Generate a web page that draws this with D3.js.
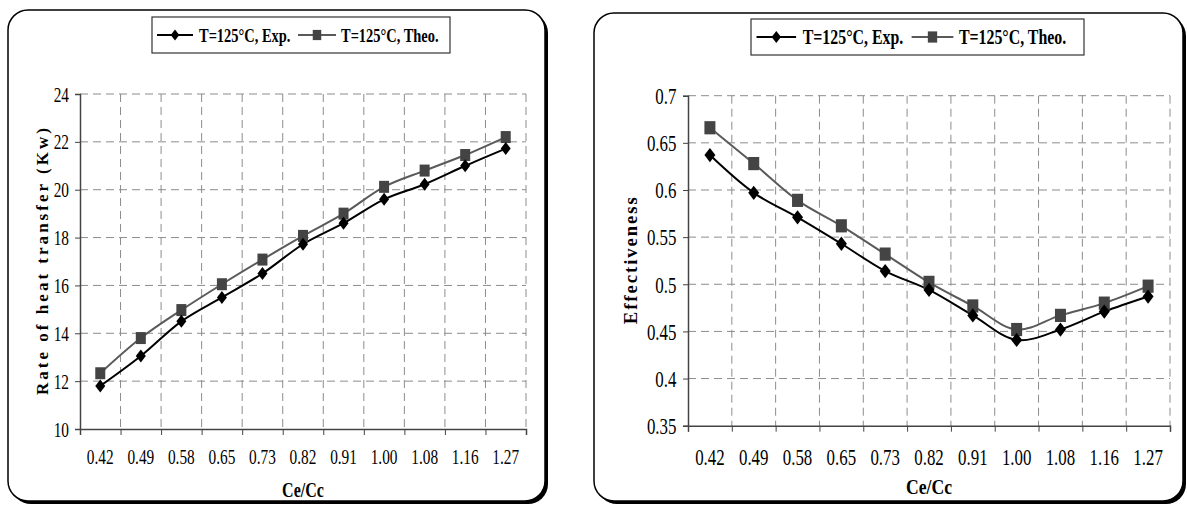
<!DOCTYPE html>
<html>
<head>
  <meta charset="utf-8">
  <style>
    body { margin: 0; background: #fff; }
    svg { display: block; }
    text { font-family: "Liberation Serif", "Times New Roman", serif; fill: #000; }
  </style>
  <title>Ce/Cc</title>
</head>
<body>
  <script src="https://cdn.jsdelivr.net/npm/d3@7"></script>
  <script>
    // data
    var cats = ["0.42", "0.49", "0.58", "0.65", "0.73", "0.82", "0.91", "1.00", "1.08", "1.16", "1.27"];
    var heatExp = [11.8, 13.05, 14.5, 15.5, 16.5, 17.72, 18.6, 19.6, 20.23, 21.0, 21.72];
    var heatTheo = [12.33, 13.8, 14.97, 16.05, 17.08, 18.07, 19.0, 20.12, 20.8, 21.45, 22.2];
    var effExp = [0.637, 0.597, 0.571, 0.543, 0.514, 0.494, 0.467, 0.441, 0.452, 0.471, 0.487];
    var effTheo = [0.666, 0.628, 0.589, 0.562, 0.532, 0.502, 0.477, 0.452, 0.467, 0.480, 0.498];
    var heatTicks = [10, 12, 14, 16, 18, 20, 22, 24];
    var heatTickLabels = ["10", "12", "14", "16", "18", "20", "22", "24"];
    var effTicks = [0.35, 0.4, 0.45, 0.5, 0.55, 0.6, 0.65, 0.7];
    var effTickLabels = ["0.35", "0.4", "0.45", "0.5", "0.55", "0.6", "0.65", "0.7"];
    var seriesNames = ["T=125\u00B0C, Exp.", "T=125\u00B0C, Theo."];

    var svg = d3.select("body").append("svg")
      .attr("width", 1187)
      .attr("height", 506);

    // narrow the glyphs a bit, the original is horizontally squashed
    function squeeze(sel, k) {
      sel.each(function () {
        var w = this.getComputedTextLength();
        d3.select(this).attr("textLength", w * k).attr("lengthAdjust", "spacingAndGlyphs");
      });
    }

    function diamond(g, cx, cy, s) {
      g.append("path")
        .attr("d", "M" + cx + "," + (cy - 6.5 * s) + "L" + (cx + 5 * s) + "," + cy +
          "L" + cx + "," + (cy + 6.5 * s) + "L" + (cx - 5 * s) + "," + cy + "Z")
        .attr("fill", "#000");
    }

    function square(g, cx, cy, s) {
      g.append("rect")
        .attr("x", cx - 5 * s).attr("y", cy - 6 * s)
        .attr("width", 10 * s).attr("height", 12 * s)
        .attr("fill", "#444");
    }

    function drawChart(c) {
      var s = c.s;
      var g = svg.append("g");

      // frame with heavy shadow on right/bottom
      g.append("rect")
        .attr("x", c.frame.x + 3).attr("y", c.frame.y + 3)
        .attr("width", c.frame.w).attr("height", c.frame.h)
        .attr("rx", 20).attr("fill", "#000");
      g.append("rect")
        .attr("x", c.frame.x).attr("y", c.frame.y)
        .attr("width", c.frame.w).attr("height", c.frame.h)
        .attr("rx", 20).attr("fill", "#fff")
        .attr("stroke", "#000").attr("stroke-width", 1.5);

      var x = d3.scaleBand().domain(cats).range([c.left, c.right]);
      var xb = d3.scaleLinear().domain([0, cats.length]).range([c.left, c.right]);
      var y = d3.scaleLinear().domain(c.domain).range([c.bottom, c.top]);

      // grid
      g.append("g").selectAll("line").data(c.ticks.slice(1)).join("line")
        .attr("x1", c.left).attr("x2", c.right)
        .attr("y1", d => y(d)).attr("y2", d => y(d))
        .attr("stroke", "#8c8c8c").attr("stroke-width", 1).attr("stroke-dasharray", "8,5");
      g.append("g").selectAll("line").data(d3.range(1, cats.length + 1)).join("line")
        .attr("x1", d => xb(d)).attr("x2", d => xb(d))
        .attr("y1", c.top).attr("y2", c.bottom)
        .attr("stroke", "#8c8c8c").attr("stroke-width", 1).attr("stroke-dasharray", "8,5");

      // y axis
      var yAxis = g.append("g")
        .attr("transform", "translate(" + c.left + ",0)")
        .call(d3.axisLeft(y).tickValues(c.ticks)
          .tickFormat((d, i) => c.tickLabels[i]).tickSize(5).tickPadding(6 * s));
      yAxis.select(".domain").attr("stroke", "#444").attr("stroke-width", 1.5);
      yAxis.selectAll(".tick line").attr("stroke", "#444");
      yAxis.selectAll("text")
        .attr("font-family", "Liberation Serif, serif")
        .attr("font-size", 21 * s).attr("fill", "#111")
        .attr("dy", "0.34em");
      squeeze(yAxis.selectAll("text"), 0.73);

      // x axis: ticks between categories, labels centred
      var xAxis = g.append("g")
        .attr("transform", "translate(0," + c.bottom + ")")
        .call(d3.axisBottom(xb).tickValues(d3.range(cats.length + 1)).tickFormat("").tickSize(6));
      xAxis.select(".domain").attr("stroke", "#444").attr("stroke-width", 1.5);
      xAxis.selectAll(".tick line").attr("stroke", "#444");

      var xl = g.append("g").selectAll("text").data(cats).join("text")
        .attr("x", d => x(d) + x.bandwidth() / 2)
        .attr("y", c.bottom + 38 * s - 3)
        .attr("text-anchor", "middle")
        .attr("font-size", 21 * s).attr("fill", "#111")
        .text(d => d);
      squeeze(xl, 0.73);

      // axis titles
      var xt = g.append("text")
        .attr("x", (c.left + c.right) / 2)
        .attr("y", c.xTitleY)
        .attr("text-anchor", "middle")
        .attr("font-weight", "bold")
        .attr("font-size", 20 * s)
        .text("Ce/Cc");
      squeeze(xt, 0.8);

      g.append("text")
        .attr("transform", "translate(" + c.yTitleX + "," + ((c.top + c.bottom) / 2) + ") rotate(-90)")
        .attr("text-anchor", "middle")
        .attr("dy", "0.35em")
        .attr("font-weight", "bold")
        .attr("font-size", 17 * s)
        .attr("textLength", c.yTitleLen)
        .attr("lengthAdjust", "spacing")
        .text(c.yTitle);

      // lines
      var line = d3.line()
        .x((d, i) => x(cats[i]) + x.bandwidth() / 2)
        .y(d => y(d))
        .curve(d3.curveCatmullRom.alpha(0.5));

      g.append("path").datum(c.theo)
        .attr("d", line).attr("fill", "none")
        .attr("stroke", "#5a5a5a").attr("stroke-width", 2);
      g.append("path").datum(c.exp)
        .attr("d", line).attr("fill", "none")
        .attr("stroke", "#000").attr("stroke-width", 2);

      c.theo.forEach((d, i) => square(g, x(cats[i]) + x.bandwidth() / 2, y(d), s));
      c.exp.forEach((d, i) => diamond(g, x(cats[i]) + x.bandwidth() / 2, y(d), s));

      // legend
      var L = c.legend;
      var lg = g.append("g");
      lg.append("rect")
        .attr("x", L.x).attr("y", L.y).attr("width", L.w).attr("height", L.h)
        .attr("fill", "#fff").attr("stroke", "#333").attr("stroke-width", 1.2);
      var cy = L.y + L.h / 2;
      var items = [
        { x0: 5, x1: 41, tx: 47, color: "#000", mark: diamond },
        { x0: 146, x1: 184, tx: 189, color: "#5a5a5a", mark: square }
      ];
      items.forEach((it, i) => {
        lg.append("line")
          .attr("x1", L.x + it.x0 * s).attr("x2", L.x + it.x1 * s)
          .attr("y1", cy).attr("y2", cy)
          .attr("stroke", it.color).attr("stroke-width", 2);
        it.mark(lg, L.x + (it.x0 + it.x1) / 2 * s, cy, s * 0.85);
        var t = lg.append("text")
          .attr("x", L.x + it.tx * s)
          .attr("y", cy + 6.5 * s)
          .attr("font-weight", "bold")
          .attr("font-size", 19 * s)
          .text(seriesNames[i]);
        squeeze(t, 0.76);
      });
    }

    drawChart({
      s: 1,
      frame: { x: 8, y: 10, w: 537, h: 491 },
      left: 80, right: 526, top: 94, bottom: 429,
      domain: [10, 24], ticks: heatTicks, tickLabels: heatTickLabels,
      exp: heatExp, theo: heatTheo,
      legend: { x: 152, y: 17, w: 298, h: 36 },
      yTitle: "Rate of heat transfer (Kw)", yTitleX: 42, yTitleLen: 267,
      xTitleY: 497
    });

    drawChart({
      s: 1.1,
      frame: { x: 594, y: 13, w: 589, h: 488 },
      left: 688, right: 1170, top: 95.7, bottom: 425.7,
      domain: [0.35, 0.7], ticks: effTicks, tickLabels: effTickLabels,
      exp: effExp, theo: effTheo,
      legend: { x: 751, y: 19, w: 333, h: 36 },
      yTitle: "Effectiveness", yTitleX: 630, yTitleLen: 127,
      xTitleY: 494
    });
  </script>
</body>
</html>
